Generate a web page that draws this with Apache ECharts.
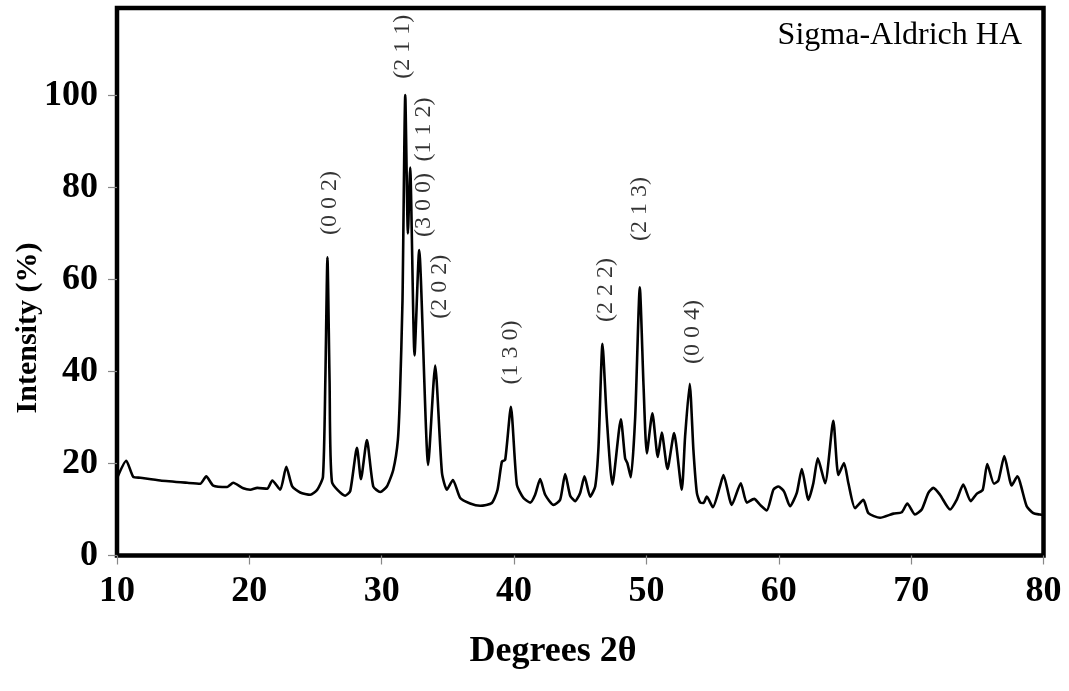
<!DOCTYPE html>
<html>
<head>
<meta charset="utf-8">
<script src="https://cdn.jsdelivr.net/npm/echarts@6/dist/echarts.min.js"></script>
<style>
html,body{margin:0;padding:0;background:#fff;}
#c{width:1069px;height:691px;}
</style>
</head>
<body>
<div id="c"></div>
<script>
// Diffraction angle (degrees 2θ) and relative intensity (%)
const twoTheta = [
 10.0,10.70,11.23,11.76,13.27,15.31,16.29,16.74,17.27,18.33,18.78,19.54,20.07,20.60,21.35,21.73,22.33,22.79,23.24,23.84,
 24.60,25.13,25.56,25.74,25.90,26.06,26.24,27.24,27.62,28.13,28.43,28.88,29.36,29.89,30.39,30.87,31.22,31.38,31.57,31.78,
 31.98,32.15,32.48,32.83,33.51,34.04,34.55,34.92,35.38,35.93,36.68,37.44,38.32,38.75,39.08,39.33,39.76,40.21,40.71,41.22,
 41.59,41.97,42.35,42.98,43.48,43.86,44.24,44.62,44.99,45.32,45.75,46.13,46.38,46.68,47.00,47.43,48.07,48.39,48.56,48.82,
 49.15,49.50,49.78,50.03,50.45,50.86,51.16,51.59,52.09,52.67,52.92,53.27,53.55,53.81,54.06,54.31,54.56,55.02,55.55,55.82,
 56.45,57.13,57.58,58.14,58.59,59.09,59.59,59.97,60.40,60.85,61.36,61.74,62.24,62.61,62.95,63.50,64.12,64.50,64.93,65.26,
 65.76,66.39,66.77,67.65,68.66,69.29,69.71,70.29,70.80,71.30,71.68,72.18,72.94,73.44,73.94,74.50,74.95,75.41,75.75,76.26,
 76.59,77.04,77.60,78.02,78.73,79.23,79.74,80.0
];
const intensity = [
 16.8,20.6,17.1,16.9,16.3,15.8,15.6,17.2,15.2,14.9,15.8,14.6,14.3,14.7,14.5,16.3,14.3,19.3,15.0,13.7,
 13.2,14.3,17.1,38.0,64.8,38.0,16.0,13.0,14.0,23.4,16.6,25.1,15.0,13.8,15.0,18.6,25.1,35.0,55.4,100.1,
 70.0,84.3,43.5,66.4,19.7,41.3,18.0,14.3,16.4,12.5,11.3,10.8,11.4,14.3,20.4,20.8,32.3,15.4,12.5,11.5,
 13.2,16.6,13.2,11.0,12.1,17.7,13.0,11.8,13.6,17.2,12.8,15.0,23.7,46.0,30.0,15.4,29.6,21.1,20.1,17.0,
 30.0,58.3,37.0,22.2,30.9,21.4,26.7,18.8,26.6,14.3,25.8,37.3,22.9,13.6,11.5,11.4,12.8,10.5,15.0,17.5,
 11.0,15.7,11.5,12.3,11.0,9.8,14.3,15.0,13.9,10.7,13.6,18.8,12.1,15.7,21.1,15.7,29.3,17.5,20.1,15.7,
 10.3,12.1,9.2,8.2,9.1,9.4,11.3,8.9,10.0,13.6,14.7,13.2,10.0,12.1,15.4,11.8,13.4,14.3,19.9,15.6,
 16.3,21.6,15.2,17.2,10.7,9.2,8.9,8.8
];
// Miller-index annotations: text and anchor (2θ, intensity) of each label's centre
const peakLabels = ["(0 0 2)","(2 1 1)","(1 1 2)","(3 0 0)","(2 0 2)","(1 3 0)","(2 2 2)","(2 1 3)","(0 0 4)"];
const peakLabelX = [26.1, 31.55, 33.2, 33.2, 34.35, 39.78, 46.9, 49.5, 53.5];
const peakLabelY = [76.6, 110.6, 92.6, 76.2, 58.4, 44.1, 57.7, 75.3, 48.6];
const xTicks = [10,20,30,40,50,60,70,80];
const yTicks = [0,20,40,60,80,100];

const lineData = twoTheta.map((x,i)=>[x,intensity[i]]);
const labelData = peakLabels.map((t,i)=>({name:t, value:[peakLabelX[i], peakLabelY[i]]}));

const serif = '"Liberation Serif","Times New Roman",serif';
const chart = echarts.init(document.getElementById('c'), null, {renderer:'canvas'});
chart.setOption({
  animation:false,
  backgroundColor:'#fff',
  grid:{left:117, right:25.5, top:8, bottom:135.5, show:true, borderColor:'#000', borderWidth:4.5, backgroundColor:'transparent'},
  xAxis:{
    type:'value', min:10, max:80, interval:10,
    axisLine:{show:false},
    axisTick:{show:true, length:9, lineStyle:{color:'#888', width:1.2}, customValues:xTicks},
    axisLabel:{fontFamily:serif, fontWeight:'bold', fontSize:36, color:'#000', margin:18, customValues:xTicks},
    splitLine:{show:false}
  },
  yAxis:{
    type:'value', min:0, max:119, interval:20,
    axisLine:{show:false},
    axisTick:{show:true, length:9, lineStyle:{color:'#888', width:1.2}, customValues:yTicks},
    axisLabel:{fontFamily:serif, fontWeight:'bold', fontSize:36, color:'#000', margin:19, customValues:yTicks},
    splitLine:{show:false}
  },
  graphic:[
    {type:'text', x:28, y:328, rotation:Math.PI/2, style:{text:'Intensity (%)', fontFamily:serif, fontWeight:'bold', fontSize:30, fill:'#000', align:'center', verticalAlign:'middle'}},
    {type:'text', x:553, y:652, style:{text:'Degrees 2θ', fontFamily:serif, fontWeight:'bold', fontSize:36, fill:'#000', align:'center', verticalAlign:'middle'}},
    {type:'text', x:1022, y:36, style:{text:'Sigma-Aldrich HA', fontFamily:serif, fontSize:32, fill:'#000', align:'right', verticalAlign:'middle'}}
  ],
  series:[
    {type:'line', data:lineData, showSymbol:false, smooth:0.2, lineStyle:{color:'#000', width:2.6}, z:3},
    {type:'scatter', data:labelData, symbolSize:0, silent:true,
     label:{show:true, position:'inside', formatter:'{b}', rotate:90, fontFamily:serif, fontSize:24, color:'#000'}}
  ]
});
</script>
</body>
</html>
